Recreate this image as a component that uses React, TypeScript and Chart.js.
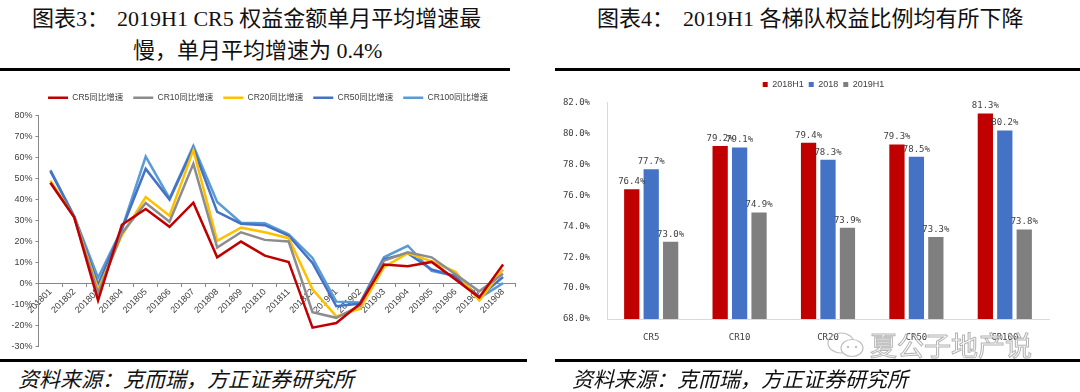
import React, { useEffect, useRef } from "react";
import { Chart, registerables } from "chart.js";

Chart.register(...registerables);

// ---------- Left chart data (monthly YoY growth, %) ----------
const months = [
  "201801", "201802", "201803", "201804", "201805", "201806", "201807", "201808", "201809", "201810",
  "201811", "201812", "201901", "201902", "201903", "201904", "201905", "201906", "201907", "201908",
];
const cr5Growth = [48, 31.5, -8, 28, 35.5, 27, 38.5, 12.5, 20, 13.3, 10.3, -21, -18.8, -9.6, 9.1, 8.3, 10.3, 2, -6.6, 9.1];
const cr10Growth = [48, 31.5, -4.5, 24, 38.4, 29.4, 57, 17.2, 24.4, 20.8, 20, -13.6, -16.3, -10.5, 10.9, 14.9, 12.5, 4.4, -3.7, 4.7];
const cr20Growth = [49, 31.5, -2.7, 23, 41.2, 32.3, 63.5, 20.3, 26.6, 24.4, 21.6, -2.7, -15.6, -12, 7.8, 14.5, 10.6, 5.6, -8.1, 6.7];
const cr50Growth = [53.5, 31.8, -0.5, 26, 54.6, 40, 64.5, 34.1, 28.5, 27.8, 22.8, 9.8, -10.8, -9.5, 11.5, 14.5, 6.7, 3.6, -6.3, 3.1];
const cr100Growth = [54, 32, 2.8, 26, 60.4, 40.5, 65.5, 38.8, 29, 28.7, 23.5, 12.2, -8.6, -9, 12.5, 18, 6, 3.6, -6.9, 0.2];
const lineSeriesNames = ["CR5同比增速", "CR10同比增速", "CR20同比增速", "CR50同比增速", "CR100同比增速"];

// ---------- Right chart data (equity share, %) ----------
const tiers = ["CR5", "CR10", "CR20", "CR50", "CR100"];
const share2018H1 = [76.4, 79.2, 79.4, 79.3, 81.3];
const share2018 = [77.7, 79.1, 78.3, 78.5, 80.2];
const share2019H1 = [73.0, 74.9, 73.9, 73.3, 73.8];
const barSeriesNames = ["2018H1", "2018", "2019H1"];

const SANS = '"Liberation Sans", "Noto Sans CJK SC", sans-serif';
const MONO = '"DejaVu Sans Mono", "Noto Sans CJK SC", monospace';

// an empty title used only as a small gap between the legend and the plot
const spacer = (h: number) => ({
  display: true,
  text: "",
  weight: 500,
  padding: 0,
  font: { size: h, lineHeight: 1 },
});

// an invisible axis that only reserves horizontal room (used to centre the legend)
const blankAxis = (w: number, position: "left" | "right") => ({
  type: "linear",
  position,
  display: true,
  ticks: { display: false },
  grid: { display: false },
  border: { display: false },
  afterFit: (s: any) => {
    s.width = w;
  },
});

function GrowthLineChart() {
  const ref = useRef<HTMLCanvasElement>(null);
  useEffect(() => {
    const colors = ["#C00000", "#8C8C8C", "#FFC000", "#4472C4", "#5B9BD5"];
    const series = [cr5Growth, cr10Growth, cr20Growth, cr50Growth, cr100Growth];
    const chart = new Chart(ref.current!, {
      type: "line",
      data: {
        labels: months,
        datasets: series.map((d, i) => ({
          label: lineSeriesNames[i],
          data: d,
          borderColor: colors[i],
          backgroundColor: colors[i],
          borderWidth: 2.5,
          pointRadius: 0,
          tension: 0,
          fill: false,
        })),
      },
      options: {
        responsive: false,
        animation: false,
        layout: { padding: { top: 8.5, right: 4, bottom: 0, left: 0 } },
        plugins: {
          tooltip: { enabled: false },
          title: spacer(3.5) as any,
          legend: {
            labels: {
              usePointStyle: true,
              pointStyle: "line",
              pointStyleWidth: 20,
              padding: 10,
              color: "#404040",
              font: { family: SANS, size: 8.5 },
            },
          },
        },
        scales: {
          x: {
            type: "category",
            position: { y: 0 } as any,
            offset: true,
            afterFit: (s: any) => {
              s.height = 0;
            },
            grid: { drawOnChartArea: false, drawTicks: true, tickLength: 3, color: "#888", offset: true },
            border: { color: "#888", width: 1 },
            ticks: {
              autoSkip: false,
              maxRotation: 45,
              minRotation: 45,
              padding: 0,
              color: "#404040",
              font: { family: SANS, size: 9 },
            },
          },
          y: {
            min: -30,
            max: 80,
            afterFit: (s: any) => {
              s.width = 38.5;
            },
            ticks: {
              stepSize: 10,
              padding: 3,
              color: "#404040",
              font: { family: SANS, size: 9 },
              callback: (v: any) => v + "%",
            },
            grid: { drawOnChartArea: false, tickLength: 3, color: "#888" },
            border: { color: "#888", width: 1 },
          },
          pad: blankAxis(21, "right") as any,
        },
      },
    });
    return () => chart.destroy();
  }, []);
  return (
    <canvas
      ref={ref}
      width={540}
      height={280}
      style={{ position: "absolute", left: 0, top: 75, width: 540, height: 280 }}
    />
  );
}

const barValueLabels = {
  id: "barValueLabels",
  afterDatasetsDraw(chart: any) {
    const ctx = chart.ctx;
    ctx.save();
    ctx.font = `9px ${MONO}`;
    ctx.fillStyle = "#404040";
    ctx.textAlign = "center";
    ctx.textBaseline = "bottom";
    chart.data.datasets.forEach((ds: any, i: number) => {
      chart.getDatasetMeta(i).data.forEach((el: any, j: number) => {
        ctx.fillText(Number(ds.data[j]).toFixed(1) + "%", el.x, el.y - 3);
      });
    });
    ctx.restore();
  },
};

function ShareBarChart() {
  const ref = useRef<HTMLCanvasElement>(null);
  useEffect(() => {
    const colors = ["#C00000", "#4472C4", "#7F7F7F"];
    const series = [share2018H1, share2018, share2019H1];
    const chart = new Chart(ref.current!, {
      type: "bar",
      data: {
        labels: tiers,
        datasets: series.map((d, i) => ({
          label: barSeriesNames[i],
          data: d,
          backgroundColor: colors[i],
          borderWidth: 0,
          categoryPercentage: 0.66,
          barPercentage: 0.785,
        })),
      },
      options: {
        responsive: false,
        animation: false,
        layout: { padding: { top: 0, right: 13, bottom: 0, left: 0 } },
        plugins: {
          tooltip: { enabled: false },
          title: spacer(3.7) as any,
          legend: {
            labels: {
              boxWidth: 5,
              boxHeight: 5,
              padding: 5,
              color: "#404040",
              font: { family: SANS, size: 9 },
            },
          },
        },
        scales: {
          x: {
            grid: { display: false },
            border: { color: "#D9D9D9", width: 1 },
            afterFit: (s: any) => {
              s.height = 21;
            },
            ticks: { padding: 5, color: "#404040", font: { family: MONO, size: 9 } },
          },
          y: {
            min: 68,
            max: 82,
            afterFit: (s: any) => {
              s.width = 67;
            },
            grid: { display: false },
            border: { color: "#D9D9D9", width: 1 },
            ticks: {
              stepSize: 2,
              padding: 9,
              color: "#404040",
              font: { family: MONO, size: 9 },
              callback: (v: any) => Number(v).toFixed(1) + "%",
            },
          },
          pad: blankAxis(58, "right") as any,
        },
      },
      plugins: [barValueLabels],
    });
    return () => chart.destroy();
  }, []);
  return (
    <canvas
      ref={ref}
      width={580}
      height={265}
      style={{ position: "absolute", left: 540, top: 75, width: 580, height: 265 }}
    />
  );
}

const titleStyle: React.CSSProperties = {
  position: "absolute",
  fontFamily: '"Liberation Serif", "Noto Sans CJK SC", serif',
  fontSize: 22,
  lineHeight: "31px",
  color: "#111",
  whiteSpace: "nowrap",
};

const footStyle: React.CSSProperties = {
  position: "absolute",
  top: 366,
  fontFamily: '"Noto Sans CJK SC", sans-serif',
  fontStyle: "italic",
  fontSize: 21,
  lineHeight: "24px",
  color: "#111",
  whiteSpace: "nowrap",
};

const rule = (left: number, top: number, width: number): React.CSSProperties => ({
  position: "absolute",
  left,
  top,
  width,
  height: 3,
  background: "#000",
});

export default function App() {
  return (
    <div
      style={{
        position: "fixed",
        left: 0,
        top: 0,
        width: 1080,
        height: 392,
        background: "#fff",
        overflow: "hidden",
      }}
    >
      {/* Left panel */}
      <div style={{ ...titleStyle, left: 32, top: 3 }}>
        图表3：<span style={{ marginLeft: 8 }}>2019H1 CR5 权益金额单月平均增速最</span>
      </div>
      <div style={{ ...titleStyle, left: 133, top: 35 }}>慢，单月平均增速为 0.4%</div>
      <div style={rule(0, 68, 510)} />
      <GrowthLineChart />
      <div style={rule(0, 359, 527)} />
      <div style={{ ...footStyle, left: 18 }}>资料来源：克而瑞，方正证券研究所</div>

      {/* Right panel */}
      <div style={{ ...titleStyle, left: 597, top: 3 }}>
        图表4：<span style={{ marginLeft: 9 }}>2019H1 各梯队权益比例均有所下降</span>
      </div>
      <div style={rule(555, 68, 525)} />
      <ShareBarChart />
      <div
        style={{
          position: "absolute",
          left: 826,
          top: 330,
          display: "flex",
          alignItems: "center",
          gap: 4,
          opacity: 0.75,
        }}
      >
        <svg width="40" height="30" viewBox="0 0 40 30">
          <ellipse cx="15" cy="13" rx="13" ry="10" fill="none" stroke="#aaa" strokeWidth="1.2" />
          <ellipse cx="26" cy="18" rx="11" ry="8.5" fill="#fff" stroke="#aaa" strokeWidth="1.2" />
          <circle cx="22" cy="17" r="1.2" fill="#aaa" />
          <circle cx="30" cy="17" r="1.2" fill="#aaa" />
        </svg>
        <span
          style={{
            fontFamily: '"Noto Sans CJK SC", sans-serif',
            fontSize: 27,
            lineHeight: "30px",
            color: "#fff",
            WebkitTextStroke: "1px #999",
            letterSpacing: 0,
          }}
        >
          夏公子地产说
        </span>
      </div>
      <div style={rule(555, 359, 525)} />
      <div style={{ ...footStyle, left: 572 }}>资料来源：克而瑞，方正证券研究所</div>
    </div>
  );
}
